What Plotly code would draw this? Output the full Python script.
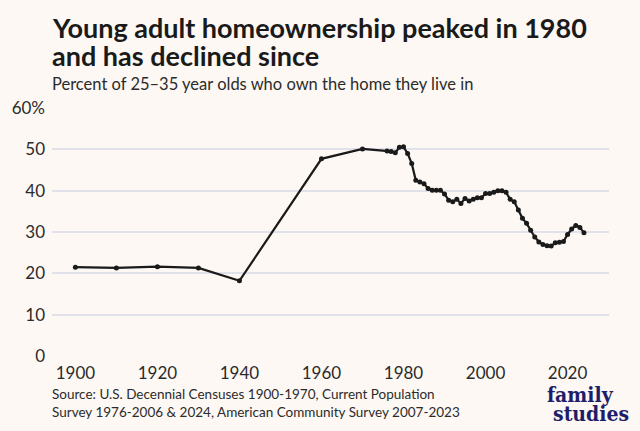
import plotly.graph_objects as go

years = [1900, 1910, 1920, 1930, 1940, 1960, 1970] + list(range(1976, 2025))
values = [21.5, 21.3, 21.6, 21.3, 18.2, 47.7, 50.1,
          49.6, 49.5, 49.2, 50.5, 50.6, 49.0, 46.6, 42.5, 42.1, 41.7,
          40.5, 40.1, 40.1, 40.1, 39.2, 37.7, 37.3, 37.9, 36.9, 38.1,
          37.5, 37.9, 38.3, 38.3, 39.3, 39.3, 39.6, 40.0, 40.0, 39.6,
          37.9, 37.3, 35.3, 33.3, 32.1, 30.4, 28.8, 27.6, 27.0, 26.7,
          26.6, 27.4, 27.5, 27.7, 29.4, 30.7, 31.6, 31.1, 29.8]

y_ticks = [0, 10, 20, 30, 40, 50, 60]
y_tick_labels = ["0", "10", "20", "30", "40", "50", "60%"]
x_ticks = [1900, 1920, 1940, 1960, 1980, 2000, 2020]

title_line1 = "Young adult homeownership peaked in 1980"
title_line2 = "and has declined since"
subtitle_text = "Percent of 25\u201335 year olds who own the home they live in"
source_text = ("Source: U.S. Decennial Censuses 1900-1970, Current Population<br>"
               "Survey 1976-2006 & 2024, American Community Survey 2007-2023")
logo_line1 = "family"
logo_line2 = "studies"

W, H = 640, 431
ML, MR, MT, MB = 52, 31, 108, 75
bg = "#fdf8f3"
ink = "#1a1a1a"
grid = "#e1e1ea"
txt = "#2b2b2b"
navy = "#1d1d6b"

pw = W - ML - MR
ph = H - MT - MB


def px(x):
    return (x - ML) / pw


def py(y_from_top):
    return (H - y_from_top - MB) / ph


fig = go.Figure()
fig.add_trace(go.Scatter(
    x=years, y=values, mode="lines+markers",
    line=dict(color=ink, width=2.2),
    marker=dict(color=ink, size=5),
    cliponaxis=False, hoverinfo="skip", showlegend=False,
))


def ann(text, x, y, size, color=txt, family="Lato", xanchor="left"):
    return dict(text=text, x=px(x), y=py(y), xref="paper", yref="paper",
                xanchor=xanchor, yanchor="top", showarrow=False, align="left",
                borderpad=0,
                font=dict(family=family, size=size, color=color))


logo_font = "DejaVu Serif Condensed, DejaVu Serif"

fig.update_layout(
    width=W, height=H,
    paper_bgcolor=bg, plot_bgcolor=bg,
    margin=dict(l=ML, r=MR, t=MT, b=MB),
    font=dict(family="Lato", color=txt, size=17),
    xaxis=dict(range=[1894.3, 2030.1], tickvals=x_ticks, showgrid=False,
               zeroline=False, showline=False, ticks="",
               tickfont=dict(size=17, color=txt), ticklabelstandoff=5),
    yaxis=dict(range=[0, 60], tickvals=y_ticks, ticktext=y_tick_labels,
               showgrid=True, gridcolor=grid, gridwidth=1.5,
               zeroline=False, showline=False, ticks="",
               tickfont=dict(size=17, color=txt), ticklabelstandoff=6),
    annotations=[
        ann("<b>" + title_line1 + "</b>", 51, 10, 27, color="#1a1a1a"),
        ann("<b>" + title_line2 + "</b>", 51, 38, 27, color="#1a1a1a"),
        ann(subtitle_text, 51, 73, 16.5),
        ann(source_text, 51, 385, 13.5),
        ann("<b>" + logo_line1 + "</b>", 580, 381, 21, color=navy, family=logo_font, xanchor="center"),
        ann("<b>" + logo_line2 + "</b>", 591, 400, 21, color=navy, family=logo_font, xanchor="center"),
    ],
)

fig.write_html("out.html", config={"displayModeBar": False},
               post_script="document.body.style.margin='0px';")
